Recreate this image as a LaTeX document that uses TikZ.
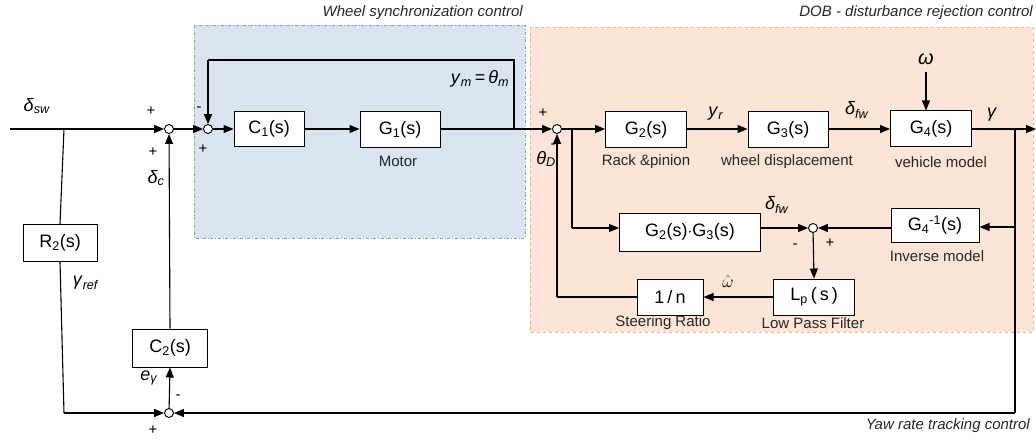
\documentclass[tikz,border=0pt]{standalone}
\usepackage{fontspec}
\setmainfont{Liberation Sans}
\usetikzlibrary{arrows.meta}
\definecolor{bluefill}{HTML}{DAE3F0}
\definecolor{blueedge}{HTML}{7F9FCF}
\definecolor{orangefill}{HTML}{FCE4D6}
\definecolor{orangeedge}{HTML}{F4B183}
\newcommand\gs[2]{\textit{#1}\textsubscript{\textit{#2}}}
\begin{document}
\begin{tikzpicture}[x=1pt,y=-1pt,
  blk/.style={draw,fill=white,line width=1pt,minimum width=#1,minimum height=36pt,inner sep=0pt,font=\fontsize{18}{20}\selectfont},
  blk/.default=80pt,
  sumj/.style={draw,fill=white,circle,minimum size=9pt,inner sep=0pt,line width=0.9pt},
  wire/.style={line width=1.1pt},
  arr/.style={line width=1.1pt,-{Triangle[length=10pt,width=8pt]}},
  lbl/.style={font=\fontsize{15}{17}\selectfont,inner sep=0pt,text=black!85},
  gl/.style={font=\fontsize{18}{20}\selectfont,inner sep=0pt},
  sgn/.style={font=\fontsize{15}{17}\selectfont,inner sep=0pt},
  ttl/.style={font=\fontsize{15}{17}\selectfont\itshape,inner sep=0pt,text=black!85}]
\useasboundingbox (0,0) rectangle (1036,441);
% regions
\fill[bluefill] (194,25) rectangle (525,238);
\draw[blueedge,dash dot,line width=0.8pt] (194,25) rectangle (525,238);
\fill[orangefill] (530,27) rectangle (1033,332);
\draw[orangeedge,dashed,line width=0.8pt] (530,27) rectangle (1033,332);
\node[ttl,anchor=east] (t1) at (523,13) {Wheel synchronization control};
\node[ttl,anchor=east] (t2) at (1033,13) {DOB - disturbance rejection control};
\node[ttl,anchor=east] (t3) at (1030,426) {Yaw rate tracking control};
% summing junctions
\node[sumj] (s1) at (169,129) {};
\node[sumj] (s2) at (208,129) {};
\node[sumj] (s3) at (557,129) {};
\node[sumj] (s4) at (813,228) {};
\node[sumj] (s5) at (169,413) {};
% blocks
\node[blk=74pt,minimum height=37pt] (R2) at (60,243) {R\textsubscript{2}(s)};
\node[blk=70pt,minimum height=35pt] (C1) at (269,129) {C\textsubscript{1}(s)};
\node[blk=80pt] (G1) at (400,130) {G\textsubscript{1}(s)};
\node[blk=81pt] (G2) at (646,130) {G\textsubscript{2}(s)};
\node[blk=80pt] (G3) at (788,130) {G\textsubscript{3}(s)};
\node[blk=81pt] (G4) at (931,129) {G\textsubscript{4}(s)};
\node[blk=141pt,minimum height=38pt] (G23) at (690,232) {G\textsubscript{2}(s)$\cdot$G\textsubscript{3}(s)};
\node[blk=88pt,minimum height=34pt] (G4i) at (935,225) {G\textsubscript{4}\textsuperscript{-1}(s)};
\node[blk=81pt] (Lp) at (814,297) {L\textsubscript{p}\,(\,s\,)};
\node[blk=66pt] (Rn) at (670,297) {1\,/\,n};
\node[blk=75pt,minimum height=38pt] (C2) at (170,348) {C\textsubscript{2}(s)};
% coordinates
\coordinate (in) at (10,129);
\coordinate (b1) at (64,129);
\coordinate (b1d) at (64,413);
\coordinate (fbA) at (514,129);
\coordinate (fbB) at (514,60);
\coordinate (fbC) at (208,60);
\coordinate (b3) at (572,129);
\coordinate (b3d) at (572,228);
\coordinate (n1) at (557,297);
\coordinate (out) at (1036,129);
\coordinate (b4) at (1015,129);
\coordinate (b4m) at (1015,227);
\coordinate (b4d) at (1015,413);
\coordinate (om) at (926,72);
% connectors
\draw[arr] (in) -- (s1);
\draw[wire] (b1) -- (R2.north);
\draw[wire] (R2.south) -- (b1d);
\draw[arr] (b1d) -- (s5);
\draw[arr] (s5) -- (C2.south);
\draw[arr] (C2.north) -- (s1);
\draw[arr] (s1) -- (s2);
\draw[arr] (s2) -- (C1);
\draw[arr] (C1) -- (G1.west |- C1);
\draw[arr] (G1.east |- s3) -- (s3);
\draw[wire] (fbA) -- (fbB) -- (fbC);
\draw[arr] (fbC) -- (s2);
\draw[arr] (s3) -- (G2.west |- s3);
\draw[arr] (G2.east |- s3) -- (G3.west |- s3);
\draw[arr] (G3.east |- s3) -- (G4.west |- s3);
\draw[arr] (G4.east |- s3) -- (out);
\draw[arr] (om) -- (om |- G4.north);
\draw[wire] (b3) -- (b3d);
\draw[arr] (b3d) -- (G23.west |- b3d);
\draw[arr] (G23.east |- s4) -- (s4);
\draw[wire] (b4) -- (b4d);
\draw[arr] (b4d) -- (s5);
\draw[arr] (b4m) -- (G4i.east |- b4m);
\draw[arr] (G4i.west |- s4) -- (s4);
\draw[arr] (s4) -- (Lp.north);
\draw[arr] (Lp) -- (Rn);
\draw[wire] (Rn.west) -- (n1);
\draw[arr] (n1) -- (s3);
% labels
\node[gl] (l1) at (37,106) {\gs{δ}{sw}};
\node[sgn] (p1) at (151,111) {+};
\node[sgn] (p2) at (153,152) {+};
\node[gl] (l2) at (156,178) {\gs{δ}{c}};
\node[sgn] (m2) at (199,109) {-};
\node[sgn] (p3) at (203,149) {+};
\node[gl] (l3) at (480,79) {\gs{y}{m}\,=\,\gs{θ}{m}};
\node[lbl] (l4) at (398,161) {Motor};
\node[gl] (l5) at (86,283) {\gs{γ}{ref}};
\node[gl] (l6) at (149,378) {\gs{e}{γ}};
\node[sgn] (m5) at (178,397) {-};
\node[sgn] (p5) at (153,430) {+};
\node[sgn] (p6) at (543,113) {+};
\node[sgn] (m6) at (553,146) {-};
\node[gl] (l7) at (546,159) {\gs{θ}{D}};
\node[gl] (l8) at (716,114) {\gs{y}{r}};
\node[gl] (l9) at (857,110) {\gs{δ}{fw}};
\node[gl] (l10) at (992,115) {\textit{γ}};
\node[gl,font=\fontsize{20}{22}\selectfont] (l11) at (926,59) {\textit{ω}};
\node[lbl] (l12) at (646,162) {Rack \&pinion};
\node[lbl] (l13) at (787,162) {wheel displacement};
\node[lbl] (l14) at (941,162) {vehicle model};
\node[gl] (l15) at (777,205) {\gs{δ}{fw}};
\node[sgn] (m7) at (795,246) {-};
\node[sgn] (p7) at (830,243) {+};
\node[lbl] (l16) at (937,256) {Inverse model};
\node[gl,font=\fontsize{19}{21}\selectfont] (l17) at (728,281) {$\hat{\omega}$};
\node[lbl] (l18) at (663,323) {Steering Ratio};
\node[lbl] (l19) at (813,323) {Low Pass Filter};
\end{tikzpicture}
\end{document}
